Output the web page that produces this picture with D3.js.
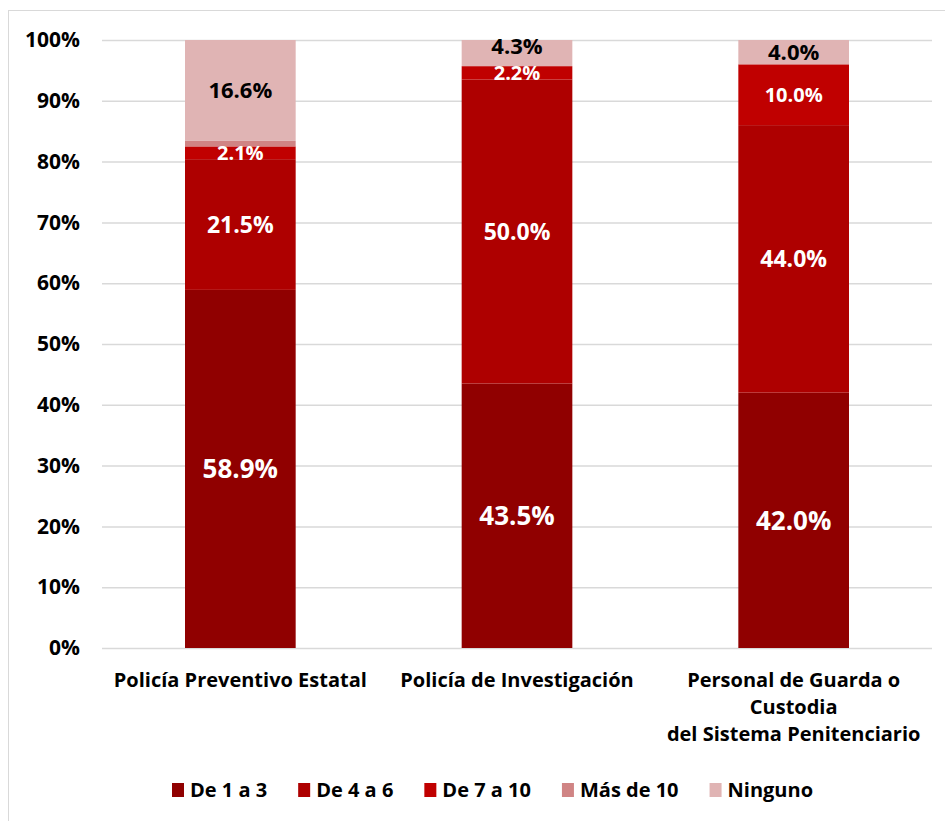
<!DOCTYPE html>
<html>
<head>
<meta charset="utf-8">
<script src="https://cdn.jsdelivr.net/npm/d3@7"></script>
<style>
  body { margin: 0; background: #fff; }
  svg text { font-family: "Open Sans", "Noto Sans", sans-serif; font-weight: bold; }
</style>
</head>
<body>
<div id="chart"></div>
<script>
const categories = [
  ['Policía Preventivo Estatal'],
  ['Policía de Investigación'],
  ['Personal de Guarda o', 'Custodia', 'del Sistema Penitenciario'],
];
const seriesNames = ['De 1 a 3', 'De 4 a 6', 'De 7 a 10', 'Más de 10', 'Ninguno'];
const de1a3 = [58.9, 43.5, 42.0];
const de4a6 = [21.5, 50.0, 44.0];
const de7a10 = [2.1, 2.2, 10.0];
const masDe10 = [0.9, 0, 0];
const ninguno = [16.6, 4.3, 4.0];
const yTicks = [0, 10, 20, 30, 40, 50, 60, 70, 80, 90, 100];

const colors = ['#900000', '#ae0000', '#c00000', '#d08484', '#e0b4b4'];
const labelColors = ['#fff', '#fff', '#fff', null, '#000'];
const labelSizes = [26, 23, 20, 0, 22];

const width = 945, height = 821;
const margin = { top: 40, right: 13, bottom: 173, left: 102 };

const svg = d3.select('#chart').append('svg')
  .attr('width', width)
  .attr('height', height);

// chart border
svg.append('rect')
  .attr('x', 8.5).attr('y', 10.5)
  .attr('width', width - 4).attr('height', height)
  .attr('fill', 'none').attr('stroke', '#d9d9d9');

const table = categories.map((c, i) => {
  const vals = [de1a3[i], de4a6[i], de7a10[i], masDe10[i], ninguno[i]];
  const o = { idx: i };
  seriesNames.forEach((s, k) => { o[s] = vals[k]; });
  return o;
});
const stacked = d3.stack().keys(seriesNames)(table);

const x = d3.scaleBand()
  .domain(d3.range(categories.length))
  .range([margin.left, width - margin.right])
  .paddingInner(0.6)
  .paddingOuter(0.3);

const y = d3.scaleLinear()
  .domain([0, 100])
  .range([height - margin.bottom, margin.top]);

// grid
svg.append('g')
  .selectAll('line')
  .data(yTicks)
  .join('line')
  .attr('x1', margin.left).attr('x2', width - margin.right)
  .attr('y1', d => y(d) + 0.5).attr('y2', d => y(d) + 0.5)
  .attr('stroke', '#d9d9d9').attr('stroke-width', 1.5);

// y axis labels
const yAxis = d3.axisLeft(y).tickValues(yTicks).tickFormat(d => `${d}%`).tickSize(0).tickPadding(22);
const ya = svg.append('g').attr('transform', `translate(${margin.left},0)`).call(yAxis);
ya.select('.domain').remove();
ya.selectAll('text')
  .attr('font-size', 21).attr('fill', '#000')
  .style('font-family', '"Open Sans", sans-serif').style('font-weight', 'bold');

// bars
const layer = svg.append('g').selectAll('g')
  .data(stacked)
  .join('g')
  .attr('fill', (d, i) => colors[i]);

layer.selectAll('rect')
  .data(d => d)
  .join('rect')
  .attr('x', d => x(d.data.idx))
  .attr('width', x.bandwidth())
  .attr('y', d => y(d[1]))
  .attr('height', d => y(d[0]) - y(d[1]));

// data labels, pushed up when they would collide with the label below
const lastLabelY = categories.map(() => Infinity);
stacked.forEach((s, k) => {
  if (!labelColors[k]) return;
  const fs = labelSizes[k];
  const items = s.filter(d => d[1] - d[0] > 0).map(d => {
    const i = d.data.idx;
    let cy = (y(d[0]) + y(d[1])) / 2;
    cy = Math.min(cy, lastLabelY[i] - fs * 1.22);
    lastLabelY[i] = cy;
    return { d, cy };
  });
  svg.append('g').selectAll('text')
    .data(items)
    .join('text')
    .attr('x', e => x(e.d.data.idx) + x.bandwidth() / 2)
    .attr('y', e => e.cy)
    .attr('dy', '0.36em')
    .attr('text-anchor', 'middle')
    .attr('font-size', fs)
    .attr('fill', labelColors[k])
    .text(e => `${(e.d[1] - e.d[0]).toFixed(1)}%`);
});

// category labels
const xl = svg.append('g').selectAll('text')
  .data(categories)
  .join('text')
  .attr('x', (d, i) => x(i) + x.bandwidth() / 2)
  .attr('y', height - margin.bottom + 39)
  .attr('text-anchor', 'middle')
  .attr('font-size', 20)
  .attr('fill', '#000');
xl.selectAll('tspan')
  .data(d => d)
  .join('tspan')
  .attr('x', function () { return this.parentNode.getAttribute('x'); })
  .attr('dy', (d, i) => (i === 0 ? 0 : 27))
  .text(d => d);

// legend
const legend = svg.append('g').attr('transform', `translate(0, ${height - 31})`);
let lx = 172;
seriesNames.forEach((s, i) => {
  const g = legend.append('g').attr('transform', `translate(${lx},0)`);
  g.append('rect').attr('x', 0).attr('y', -7).attr('width', 12).attr('height', 14).attr('fill', colors[i]);
  const t = g.append('text').attr('x', 18).attr('dy', '0.36em')
    .attr('font-size', 20).attr('fill', '#000').text(s);
  lx += 18 + t.node().getComputedTextLength() + 31;
});
</script>
</body>
</html>
